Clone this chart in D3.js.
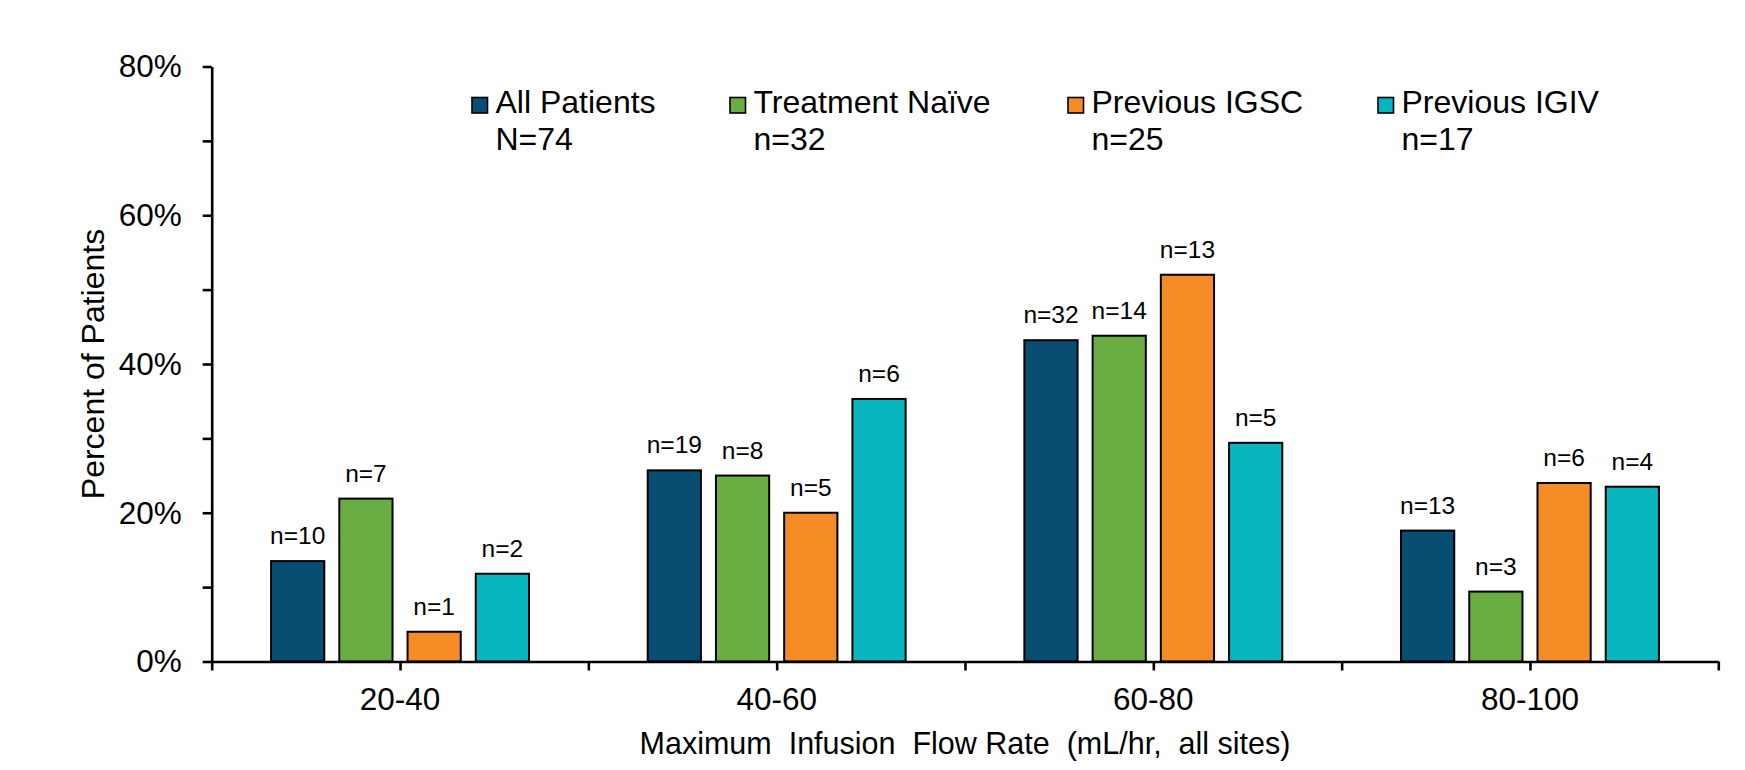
<!DOCTYPE html>
<html>
<head>
<meta charset="utf-8">
<script src="https://cdn.jsdelivr.net/npm/d3@7"></script>
<style>
  html, body { margin: 0; padding: 0; background: #fff; }
  svg { display: block; font-family: "Liberation Sans", Arial, sans-serif; }
  .axis path, .axis line { stroke: #000; stroke-width: 2.6; }
  .axis text { fill: #000; }
</style>
</head>
<body>
<div id="chart"></div>
<script>
const categories = ["20-40", "40-60", "60-80", "80-100"];
const seriesNames = ["All Patients", "Treatment Naïve", "Previous IGSC", "Previous IGIV"];
const seriesTotals = ["N=74", "n=32", "n=25", "n=17"];
const seriesColors = ["#074e72", "#6aad43", "#f68c25", "#07b6bf"];

// percent of patients per flow-rate bin
const allPatients    = [13.5, 25.7, 43.2, 17.6];
const treatmentNaive = [21.9, 25.0, 43.8, 9.4];
const previousIGSC   = [4.0, 20.0, 52.0, 24.0];
const previousIGIV   = [11.8, 35.3, 29.4, 23.5];

// patient counts shown above the bars
const allPatientsN    = [10, 19, 32, 13];
const treatmentNaiveN = [7, 8, 14, 3];
const previousIGSCN   = [1, 5, 13, 6];
const previousIGIVN   = [2, 6, 5, 4];

const yTicks = [0, 10, 20, 30, 40, 50, 60, 70, 80];
const yLabelTicks = [0, 20, 40, 60, 80];

const yTitle = "Percent of Patients";
const xTitle = "Maximum  Infusion  Flow Rate  (mL/hr,  all sites)";

const values = [allPatients, treatmentNaive, previousIGSC, previousIGIV];
const counts = [allPatientsN, treatmentNaiveN, previousIGSCN, previousIGIVN];

const width = 1745;
const height = 770;
const plotLeft = 211.7, plotRight = 1718.3, plotTop = 66.5, plotBottom = 661.5;

const svg = d3.select("#chart").append("svg")
    .attr("width", width)
    .attr("height", height);

const x0 = d3.scaleBand()
    .domain(categories)
    .range([plotLeft, plotRight]);

const x1 = d3.scaleBand()
    .domain(seriesNames)
    .range([0, x0.bandwidth()])
    .paddingInner(0.22)
    .paddingOuter(0.87);

const y = d3.scaleLinear()
    .domain([0, 80])
    .range([plotBottom, plotTop]);

// tick positions at the bin edges and centres
const xTick = d3.scaleLinear()
    .domain([0, categories.length])
    .range([plotLeft, plotRight]);

// bars
seriesNames.forEach((name, s) => {
  const g = svg.append("g");
  g.selectAll("rect")
      .data(categories)
      .enter().append("rect")
      .attr("x", c => x0(c) + x1(name))
      .attr("y", (c, i) => y(values[s][i]))
      .attr("width", x1.bandwidth())
      .attr("height", (c, i) => y(0) - y(values[s][i]))
      .attr("fill", seriesColors[s])
      .attr("stroke", "#000")
      .attr("stroke-width", 2);

  g.selectAll("text")
      .data(categories)
      .enter().append("text")
      .attr("x", c => x0(c) + x1(name) + x1.bandwidth() / 2)
      .attr("y", (c, i) => y(values[s][i]) - 17)
      .attr("text-anchor", "middle")
      .style("font-size", "24.5px")
      .attr("fill", "#000")
      .text((c, i) => "n=" + counts[s][i]);
});

// y axis
const yAxis = svg.append("g")
    .attr("class", "axis")
    .attr("transform", `translate(${plotLeft},0)`)
    .call(d3.axisLeft(y)
        .tickValues(yTicks)
        .tickSize(9)
        .tickSizeOuter(0)
        .tickPadding(21)
        .tickFormat(d => yLabelTicks.includes(d) ? d + "%" : ""));
yAxis.selectAll("text")
    .style("font-size", "31.5px")
    .attr("dy", "0.33em");

// x axis
svg.append("g")
    .attr("class", "axis")
    .attr("transform", `translate(0,${plotBottom})`)
    .call(d3.axisBottom(xTick)
        .tickValues(d3.range(0, categories.length + 0.5, 0.5))
        .tickSize(9)
        .tickSizeOuter(0)
        .tickFormat(""));

svg.append("g")
    .selectAll("text")
    .data(categories)
    .enter().append("text")
    .attr("x", c => x0(c) + x0.bandwidth() / 2)
    .attr("y", 709.5)
    .attr("text-anchor", "middle")
    .style("font-size", "31.5px")
    .text(c => c);

// axis titles
svg.append("text")
    .attr("transform", `translate(104,${(plotTop + plotBottom) / 2}) rotate(-90)`)
    .attr("text-anchor", "middle")
    .style("font-size", "32px")
    .text(yTitle);

svg.append("text")
    .attr("x", (plotLeft + plotRight) / 2)
    .attr("y", 753.5)
    .attr("text-anchor", "middle")
    .style("font-size", "30.5px")
    .style("white-space", "pre")
    .text(xTitle);

// legend
const legendX = [471, 729, 1067, 1377];
const legend = svg.append("g");
seriesNames.forEach((name, s) => {
  const g = legend.append("g").attr("transform", `translate(${legendX[s]},0)`);
  g.append("rect")
      .attr("x", 1)
      .attr("y", 97.5)
      .attr("width", 15.5)
      .attr("height", 15.5)
      .attr("fill", seriesColors[s])
      .attr("stroke", "#000")
      .attr("stroke-width", 1.6);
  g.append("text")
      .attr("x", 24.5)
      .attr("y", 113.3)
      .style("font-size", "32px")
      .text(name);
  g.append("text")
      .attr("x", 24.5)
      .attr("y", 150)
      .style("font-size", "32px")
      .text(seriesTotals[s]);
});
</script>
</body>
</html>
